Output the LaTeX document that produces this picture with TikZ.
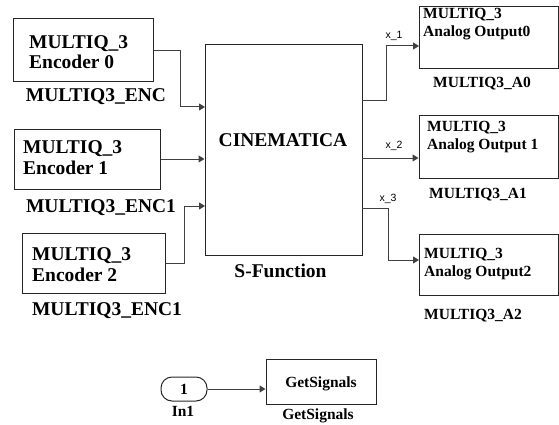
\documentclass[tikz,border=0pt]{standalone}
\usepackage{fontspec}
\setmainfont{Liberation Serif}
\setsansfont{Liberation Sans}
\usetikzlibrary{arrows.meta}

\begin{document}
\begin{tikzpicture}[x=1pt,y=-1pt,
    blk/.style={draw=black!85,line width=1pt,inner sep=0pt},
    wire/.style={draw=black!75,line width=1pt},
    arr/.style={wire,-{Triangle[length=6pt,width=7pt]}},
    big/.style={font=\fontsize{19.5}{20.5}\selectfont\bfseries,inner sep=0pt},
    small/.style={font=\fontsize{15.5}{18.5}\selectfont\bfseries,inner sep=0pt},
    sig/.style={font=\sffamily\fontsize{10.5}{11}\selectfont,inner sep=0pt}]
    \useasboundingbox (0,0) rectangle (559,425);
    % encoders
    \node[blk,minimum width=140pt,minimum height=63pt] (enc0) at (83,50.5) {};
    \node[blk,minimum width=146pt,minimum height=60pt] (enc1) at (87,159) {};
    \node[blk,minimum width=143pt,minimum height=60pt] (enc2) at (93.5,263) {};
    \node[big,anchor=west,align=left] (enc0t) at (29,52) {MULTIQ\_3\\Encoder 0};
    \node[big,anchor=west,align=left] (enc1t) at (23,157.5) {MULTIQ\_3\\Encoder 1};
    \node[big,anchor=west,align=left] (enc2t) at (32,264.5) {MULTIQ\_3\\Encoder 2};
    \node[big] (enc0l) at (96,97) {MULTIQ3\_ENC};
    \node[big] (enc1l) at (101,208) {MULTIQ3\_ENC1};
    \node[big] (enc2l) at (107,311) {MULTIQ3\_ENC1};
    % s-function
    \node[blk,minimum width=157pt,minimum height=210pt] (cin) at (283.5,150) {};
    \node[big] (cint) at (283,140) {CINEMATICA};
    \node[big] (cinl) at (280.5,271) {S-Function};
    % outputs
    \node[blk,minimum width=139pt,minimum height=62pt] (a0) at (488.5,38) {};
    \node[blk,minimum width=139pt,minimum height=62pt] (a1) at (488.5,147) {};
    \node[blk,minimum width=139pt,minimum height=61pt] (a2) at (488.5,264.5) {};
    \node[small,anchor=west,align=left] (a0t) at (423,24) {MULTIQ\_3\\Analog Output0};
    \node[small,anchor=west,align=left] (a1t) at (427,137) {MULTIQ\_3\\Analog Output 1};
    \node[small,anchor=west,align=left] (a2t) at (424,264) {MULTIQ\_3\\Analog Output2};
    \node[small] (a0l) at (482,84) {MULTIQ3\_A0};
    \node[small] (a1l) at (478,195) {MULTIQ3\_A1};
    \node[small] (a2l) at (473,316) {MULTIQ3\_A2};
    % ports
    \coordinate (cin1) at (205,107);
    \coordinate (cin3) at (205,206);
    \coordinate (cout1) at (362,101);
    \coordinate (cout2) at (362,158);
    \coordinate (cout3) at (362,208);
    \coordinate (a0in) at (419,46);
    \coordinate (a2in) at (419,260);
    \draw[arr] (enc0.east) -- ++(27,0) |- (cin1);
    \draw[arr] (enc1.east) -- (cin.west |- enc1.east);
    \draw[arr] (enc2.east) -- ++(19,0) |- (cin3);
    \draw[arr] (cout1) -- ++(24,0) |- (a0in);
    \draw[arr] (cout2) -- (a1.west |- cout2);
    \draw[arr] (cout3) -- ++(26,0) |- (a2in);
    \node[sig] (x1) at (394,35.5) {x\_1};
    \node[sig] (x2) at (394,146) {x\_2};
    \node[sig] (x3) at (388,199) {x\_3};
    % inport and subsystem
    \node[blk,rounded corners=11pt,minimum width=46pt,minimum height=24pt,small] (in1) at (184,389) {1};
    \node[small] (in1l) at (183,411) {In1};
    \node[blk,minimum width=110pt,minimum height=45pt] (gs) at (321,381.5) {};
    \node[small] (gst) at (321,384) {GetSignals};
    \node[small] (gsl) at (318,416) {GetSignals};
    \draw[arr] (in1.east) -- (gs.west |- in1.east);
\end{tikzpicture}
\end{document}
